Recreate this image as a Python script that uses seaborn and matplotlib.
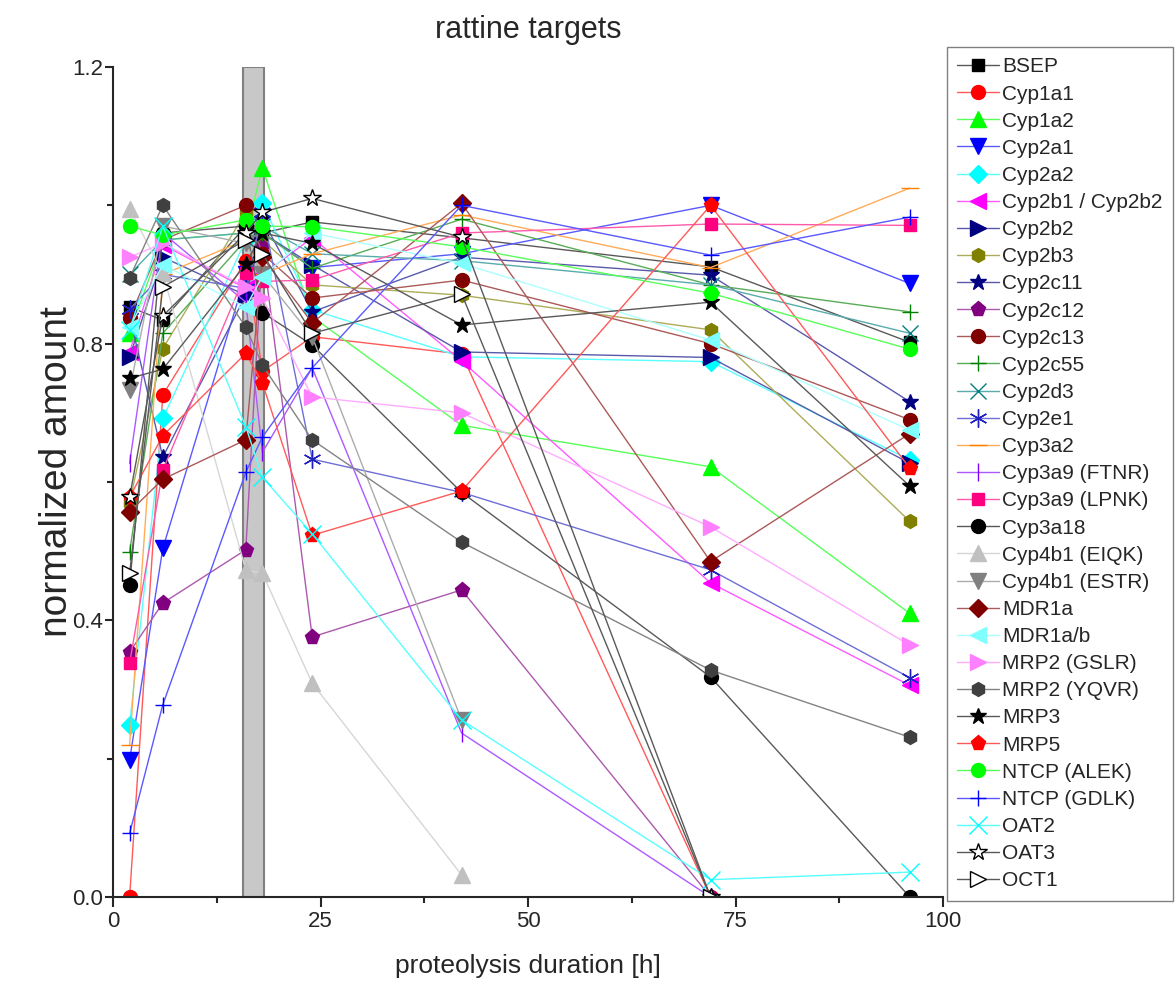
import numpy as np
import pandas as pd
import matplotlib
matplotlib.use("Agg")
import matplotlib.pyplot as plt
import matplotlib.colors as mcolors
import seaborn as sns

nan = np.nan
hours = [2, 6, 16, 18, 24, 42, 72, 96]

BSEP = [0.853, 0.834, 0.97, 0.96, 0.976, 0.953, 0.911, 0.802]
Cyp1a1 = [0.0, 0.726, 0.92, 0.76, 0.81, 0.785, 0.0, nan]
Cyp1a2 = [0.815, 0.95, 0.96, 1.054, 0.839, 0.682, 0.622, 0.41]
Cyp2a1 = [0.198, 0.504, 0.90, 0.96, 0.91, 0.93, 1.0, 0.887]
Cyp2a2 = [0.249, 0.692, 0.95, 1.003, 0.849, 0.781, 0.774, 0.632]
Cyp2b1_2b2 = [0.788, 0.943, 0.88, 0.90, 0.953, 0.775, 0.454, 0.306]
Cyp2b2 = [0.781, 0.925, 0.87, 0.96, 0.914, 0.788, 0.78, 0.627]
Cyp2b3 = [0.57, 0.793, 0.99, 0.95, 0.885, 0.87, 0.82, 0.543]
Cyp2c11 = [0.84, 0.636, 0.87, 0.98, 0.846, 0.925, 0.899, 0.716]
Cyp2c12 = [0.354, 0.425, 0.502, 0.94, 0.376, 0.444, 0.0, nan]
Cyp2c13 = [0.837, 0.95, 1.0, 0.93, 0.866, 0.892, 0.80, 0.69]
Cyp2c55 = [0.499, 0.815, 0.95, 0.96, 0.909, 0.98, 0.885, 0.846]
Cyp2d3 = [0.90, 0.95, 0.96, 0.97, 0.93, 0.92, 0.885, 0.815]
Cyp2e1 = [0.85, 0.90, 0.88, 0.99, 0.633, 0.585, 0.473, 0.317]
Cyp3a2 = [0.22, 0.90, 0.95, 0.90, 0.93, 0.986, 0.91, 1.025]
Cyp3a9_FTNR = [0.627, 0.96, 0.86, 0.643, 0.765, 0.237, 0.0, nan]
Cyp3a9_LPNK = [0.338, 0.617, 0.902, 0.89, 0.892, 0.96, 0.973, 0.971]
Cyp3a18 = [0.451, 0.96, 0.97, 0.845, 0.798, 0.585, 0.318, 0.0]
Cyp4b1_EIQK = [0.995, 0.902, 0.473, 0.468, 0.309, 0.032, nan, nan]
Cyp4b1_ESTR = [0.733, 0.97, 0.945, 0.90, 0.81, 0.256, nan, nan]
MDR1a = [0.557, 0.604, 0.661, 0.925, 0.83, 1.003, 0.485, 0.67]
MDR1a_b = [0.824, 0.914, 0.853, 0.897, 0.96, 0.916, 0.805, 0.675]
MRP2_GSLR = [0.925, 0.945, 0.882, 0.866, 0.723, 0.70, 0.535, 0.364]
MRP2_YQVR = [0.895, 1.0, 0.824, 0.769, 0.661, 0.513, 0.328, 0.231]
MRP3 = [0.75, 0.763, 0.915, 0.96, 0.945, 0.827, 0.86, 0.594]
MRP5 = [0.578, 0.667, 0.786, 0.743, 0.523, 0.587, 1.0, 0.62]
NTCP_ALEK = [0.97, 0.957, 0.979, 0.97, 0.969, 0.94, 0.873, 0.792]
NTCP_GDLK = [0.092, 0.278, 0.614, 0.665, 0.765, 1.0, 0.928, 0.983]
OAT2 = [0.82, 0.97, 0.68, 0.607, 0.525, 0.256, 0.025, 0.036]
OAT3 = [0.578, 0.84, 0.96, 0.99, 1.01, 0.954, 0.0, nan]
OCT1 = [0.468, 0.882, 0.95, 0.93, 0.815, 0.872, 0.0, nan]

series_labels = ["BSEP", "Cyp1a1", "Cyp1a2", "Cyp2a1", "Cyp2a2", "Cyp2b1 / Cyp2b2",
                 "Cyp2b2", "Cyp2b3", "Cyp2c11", "Cyp2c12", "Cyp2c13", "Cyp2c55",
                 "Cyp2d3", "Cyp2e1", "Cyp3a2", "Cyp3a9 (FTNR)", "Cyp3a9 (LPNK)",
                 "Cyp3a18", "Cyp4b1 (EIQK)", "Cyp4b1 (ESTR)", "MDR1a", "MDR1a/b",
                 "MRP2 (GSLR)", "MRP2 (YQVR)", "MRP3", "MRP5", "NTCP (ALEK)",
                 "NTCP (GDLK)", "OAT2", "OAT3", "OCT1"]
series_values = [BSEP, Cyp1a1, Cyp1a2, Cyp2a1, Cyp2a2, Cyp2b1_2b2, Cyp2b2, Cyp2b3,
                 Cyp2c11, Cyp2c12, Cyp2c13, Cyp2c55, Cyp2d3, Cyp2e1, Cyp3a2,
                 Cyp3a9_FTNR, Cyp3a9_LPNK, Cyp3a18, Cyp4b1_EIQK, Cyp4b1_ESTR, MDR1a,
                 MDR1a_b, MRP2_GSLR, MRP2_YQVR, MRP3, MRP5, NTCP_ALEK, NTCP_GDLK,
                 OAT2, OAT3, OCT1]

# style: (color, marker, open_face, size)
styles = [
    ("#000000", "s", False, 9),
    ("#FF0000", "o", False, 10),
    ("#00FF00", "^", False, 11),
    ("#0000FF", "v", False, 11),
    ("#00FFFF", "D", False, 9),
    ("#FF00FF", "<", False, 11),
    ("#000080", ">", False, 11),
    ("#808000", "h", False, 10),
    ("#000080", "*", False, 12),
    ("#800080", "p", False, 11),
    ("#800000", "o", False, 10),
    ("#008000", "+", False, 12),
    ("#008080", "x", False, 12),
    ("#2020C0", (6, 2, 0), False, 13),
    ("#FF8000", "_", False, 13),
    ("#8000FF", "|", False, 13),
    ("#FF0080", "s", False, 9),
    ("#000000", "o", False, 10),
    ("#C0C0C0", "^", False, 11),
    ("#808080", "v", False, 11),
    ("#800000", "D", False, 9),
    ("#80FFFF", "<", False, 11),
    ("#FF80FF", ">", False, 11),
    ("#404040", "h", False, 10),
    ("#000000", "*", False, 12),
    ("#FF0000", "p", False, 11),
    ("#00FF00", "o", False, 10),
    ("#0000FF", "+", False, 12),
    ("#00FFFF", "x", False, 13),
    ("#000000", "*", True, 13),
    ("#000000", ">", True, 11),
]

sns.set_style("ticks")
plt.rcParams["font.family"] = ["Liberation Sans", "DejaVu Sans"]

fig = plt.figure(figsize=(11.76, 9.82), dpi=100)
ax = fig.add_axes([113 / 1176, 1 - 897 / 982, (943 - 113) / 1176, (897 - 67) / 982])

ax.axvspan(15.7, 18.2, facecolor="#C8C8C8", edgecolor="#808080", linewidth=1.5, zorder=0)


def lighten(c, f=0.35):
    r, g, b = mcolors.to_rgb(c)
    return (r + (1 - r) * f, g + (1 - g) * f, b + (1 - b) * f)


for label, vals, (col, mk, open_face, ms) in zip(series_labels, series_values, styles):
    df = pd.DataFrame({"h": hours, "v": vals}).dropna()
    face = "white" if open_face else col
    sns.lineplot(data=df, x="h", y="v", ax=ax, color=lighten(col), linewidth=1.0,
                 marker=mk, markersize=ms, markerfacecolor=face, markeredgecolor=col,
                 markeredgewidth=1.0, label=label, zorder=2)

ax.set_xlim(0, 100)
ax.set_ylim(0, 1.2)
ax.set_xticks([0, 25, 50, 75, 100])
ax.set_xticks([12.5, 37.5, 62.5, 87.5], minor=True)
ax.set_yticks([0.0, 0.4, 0.8, 1.2])
ax.set_yticks([0.2, 0.6, 1.0], minor=True)
ax.set_yticklabels(["0.0", "0.4", "0.8", "1.2"])
ax.tick_params(axis="x", which="major", labelsize=16, length=7, width=1.5,
               direction="out", pad=3)
ax.tick_params(axis="y", which="major", labelsize=16, length=6, width=1.5,
               direction="out", pad=1)
ax.tick_params(axis="both", which="minor", length=4, width=1.5, direction="out")
for s in ["top", "right"]:
    ax.spines[s].set_visible(False)
for s in ["left", "bottom"]:
    ax.spines[s].set_linewidth(1.5)

ax.set_xlabel("proteolysis duration [h]", fontsize=19, labelpad=16)
ax.set_ylabel("normalized amount", fontsize=28)
ax.yaxis.set_label_coords(-0.046, 0.512)
ax.set_title("rattine targets", fontsize=22, pad=21)

handles, labels = ax.get_legend_handles_labels()
ax.legend(handles, labels, loc="upper left", bbox_to_anchor=(947 / 1176, 1 - 47 / 982),
          bbox_transform=fig.transFigure, fontsize=15, frameon=True, fancybox=False,
          edgecolor="#808080", framealpha=1, handlelength=2.0, labelspacing=0.39,
          borderpad=0.5, handletextpad=0.15, borderaxespad=0)

fig.savefig("out.png", dpi=100)
